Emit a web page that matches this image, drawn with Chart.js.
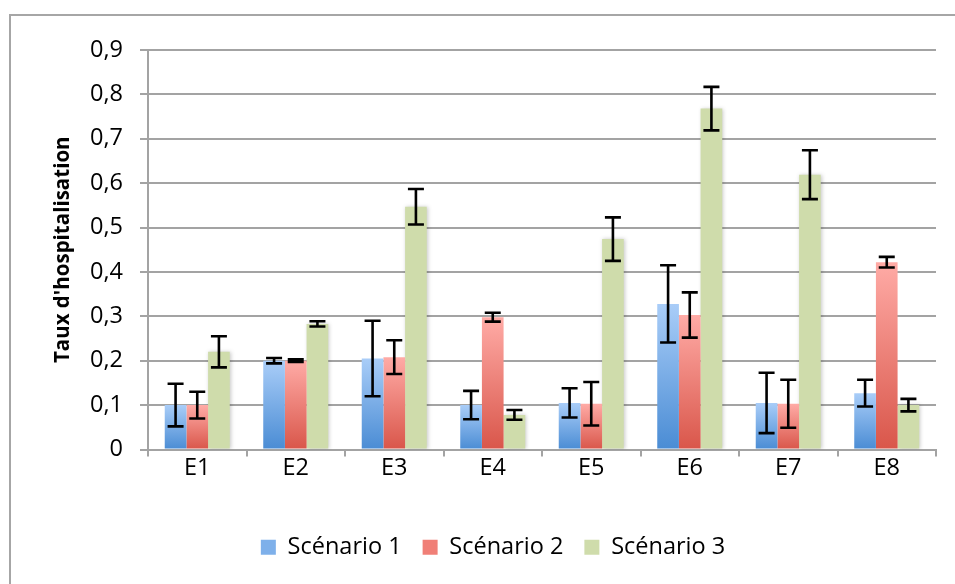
<!DOCTYPE html>
<html>
<head>
<meta charset="utf-8">
<script src="https://cdn.jsdelivr.net/npm/chart.js@4.4.1/dist/chart.umd.min.js"></script>
<style>
  html, body { margin: 0; padding: 0; background: #fff; }
  #wrap { width: 955px; height: 584px; position: relative; }
</style>
</head>
<body>
<div id="wrap"><canvas id="hospChart" width="955" height="584"></canvas></div>
<script>
// ============================
// Data
// ============================
const categories = ["E1", "E2", "E3", "E4", "E5", "E6", "E7", "E8"];
const seriesNames = ["Scénario 1", "Scénario 2", "Scénario 3"];

const scenario1 = [0.100, 0.200, 0.205, 0.100, 0.105, 0.328, 0.105, 0.127];
const scenario1Err = [0.048, 0.006, 0.085, 0.032, 0.033, 0.087, 0.068, 0.030];

const scenario2 = [0.100, 0.200, 0.208, 0.298, 0.103, 0.303, 0.103, 0.422];
const scenario2Err = [0.030, 0.003, 0.038, 0.010, 0.049, 0.051, 0.054, 0.012];

const scenario3 = [0.220, 0.283, 0.547, 0.078, 0.474, 0.768, 0.619, 0.100];
const scenario3Err = [0.035, 0.006, 0.040, 0.011, 0.049, 0.049, 0.055, 0.014];

const yTickValues = [0, 0.1, 0.2, 0.3, 0.4, 0.5, 0.6, 0.7, 0.8, 0.9];

// ============================
// Colours
// ============================
const gradTop = ["#a9cdf8", "#ffaba6", "#cfdcab"];
const gradBottom = ["#4a8cd4", "#d9564a", "#cfdcab"];
const legendFill = ["#7eb0ea", "#f07f77", "#cfdcab"];
const gridGray = "#a3a3a3";

// per-bar vertical gradient, light at the top, darker at the base
function barFill(i) {
  return ctx => {
    if (ctx.type !== "data") return legendFill[i];
    const y = ctx.chart.scales.y;
    if (!y || !isFinite(y.top)) return legendFill[i];
    const top = y.getPixelForValue(ctx.raw);
    const base = y.getPixelForValue(0);
    if (!isFinite(top) || !isFinite(base) || base - top < 1) return legendFill[i];
    const g = ctx.chart.ctx.createLinearGradient(0, top, 0, base);
    g.addColorStop(0, gradTop[i]);
    g.addColorStop(1, gradBottom[i]);
    return g;
  };
}

const errors = [scenario1Err, scenario2Err, scenario3Err];

// ============================
// Plugins: frame, green shadow, error bars
// ============================
const framePlugin = {
  id: "frame",
  beforeDraw(chart) {
    const c = chart.ctx;
    c.save();
    c.fillStyle = "#fff";
    c.fillRect(0, 0, chart.width, chart.height);
    c.strokeStyle = "#a6a6a6";
    c.lineWidth = 2;
    c.strokeRect(10, 15, 1000, 1000);
    c.restore();
  }
};

const shadowPlugin = {
  id: "barShadow",
  beforeDatasetDraw(chart, args) {
    if (args.index !== 2) return;
    const c = chart.ctx;
    c.save();
    c.shadowColor = "rgba(0,0,0,0.22)";
    c.shadowBlur = 4;
    c.shadowOffsetX = 1;
    c.shadowOffsetY = 0;
  },
  afterDatasetDraw(chart, args) {
    if (args.index !== 2) return;
    chart.ctx.restore();
  }
};

const errorBarPlugin = {
  id: "errorBars",
  afterDatasetsDraw(chart) {
    const c = chart.ctx;
    const y = chart.scales.y;
    c.save();
    c.strokeStyle = "#000";
    c.lineWidth = 2.6;
    c.lineCap = "butt";
    chart.data.datasets.forEach((ds, i) => {
      const meta = chart.getDatasetMeta(i);
      meta.data.forEach((bar, j) => {
        const v = ds.data[j];
        const e = errors[i][j];
        const yHi = y.getPixelForValue(v + e);
        const yLo = y.getPixelForValue(v - e);
        const half = 8;
        c.beginPath();
        c.moveTo(bar.x, yHi);
        c.lineTo(bar.x, yLo);
        c.moveTo(bar.x - half, yHi);
        c.lineTo(bar.x + half, yHi);
        c.moveTo(bar.x - half, yLo);
        c.lineTo(bar.x + half, yLo);
        c.stroke();
      });
    });
    c.restore();
  }
};

// ============================
// Chart
// ============================
const FONT = "'Open Sans', 'DejaVu Sans', sans-serif";

const ctx = document.getElementById("hospChart").getContext("2d");
const chartInstance = new Chart(ctx, {
  type: "bar",
  data: {
    labels: categories,
    datasets: [
      { label: seriesNames[0], data: scenario1, backgroundColor: barFill(0) },
      { label: seriesNames[1], data: scenario2, backgroundColor: barFill(1) },
      { label: seriesNames[2], data: scenario3, backgroundColor: barFill(2) }
    ]
  },
  options: {
    responsive: false,
    animation: false,
    devicePixelRatio: 1,
    datasets: {
      bar: { categoryPercentage: 0.66, barPercentage: 1.0, borderWidth: 0 }
    },
    layout: {
      padding: { top: 50, left: 50, right: 19, bottom: 15 }
    },
    scales: {
      x: {
        afterFit: s => { s.height = 65; },
        grid: {
          offset: true,
          drawOnChartArea: false,
          drawTicks: true,
          tickLength: 7,
          color: gridGray,
          lineWidth: 2
        },
        border: { color: gridGray, width: 2 },
        ticks: {
          color: "#000",
          padding: -2,
          font: { family: FONT, size: 23.5 }
        }
      },
      y: {
        min: 0,
        max: 0.9,
        afterFit: s => { s.width = 98; },
        afterBuildTicks: s => { s.ticks = yTickValues.map(v => ({ value: v })); },
        grid: {
          color: gridGray,
          lineWidth: 2,
          tickLength: 8
        },
        border: { color: gridGray, width: 2 },
        ticks: {
          color: "#000",
          padding: 17,
          font: { family: FONT, size: 23.5 },
          callback: v => (v === 0 ? "0" : v.toFixed(1).replace(".", ","))
        },
        title: {
          display: true,
          text: "Taux d'hospitalisation",
          color: "#000",
          padding: { top: 1, bottom: 0 },
          font: { family: FONT, size: 20.5, weight: "bold" }
        }
      }
    },
    plugins: {
      legend: {
        position: "bottom",
        labels: {
          color: "#000",
          boxWidth: 15,
          boxHeight: 15,
          padding: 21,
          font: { family: FONT, size: 23.5 },
          generateLabels: chart => chart.data.datasets.map((ds, i) => ({
            text: ds.label,
            fillStyle: legendFill[i],
            strokeStyle: legendFill[i],
            lineWidth: 0,
            hidden: false,
            datasetIndex: i
          }))
        }
      },
      tooltip: { enabled: false }
    }
  },
  plugins: [framePlugin, shadowPlugin, errorBarPlugin]
});
</script>
</body>
</html>
